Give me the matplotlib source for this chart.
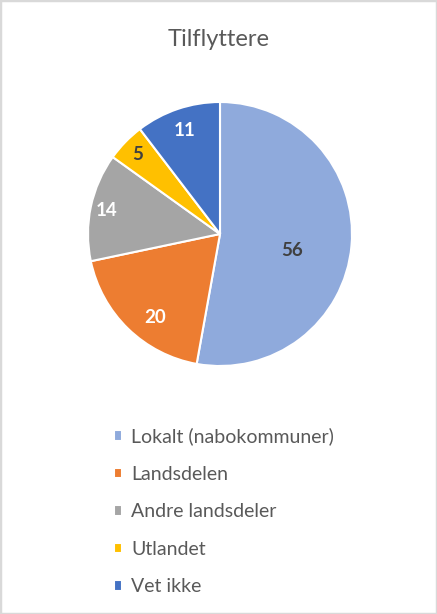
import numpy as np
import matplotlib
matplotlib.use('Agg')
import matplotlib.pyplot as plt
from matplotlib.patches import Rectangle

plt.rcParams['font.family'] = ['Lato', 'DejaVu Sans']

# data
categories = ['Lokalt (nabokommuner)', 'Landsdelen', 'Andre landsdeler', 'Utlandet', 'Vet ikke']
values = [56, 20, 14, 5, 11]
colors = ['#8FAADC', '#ED7D31', '#A5A5A5', '#FFC000', '#4472C4']
label_colors = ['#404040', 'white', 'white', '#404040', 'white']
label_dist = [0.56, 0.80, 0.88, 0.87, 0.83]
label_shift = [-8, 6, 0, 0, 0]  # degrees, Excel's "best fit" nudges

W, H = 437, 614
fig = plt.figure(figsize=(W / 100, H / 100), dpi=100)

cx, cy, r = 220, 234, 132
ax = fig.add_axes([(cx - r) / W, (H - cy - r) / H, 2 * r / W, 2 * r / H])
wedges, _ = ax.pie(values, colors=colors, startangle=90, counterclock=False,
                   radius=1, wedgeprops=dict(edgecolor='white', linewidth=1.5))
ax.set_xlim(-1, 1)
ax.set_ylim(-1, 1)
ax.set_aspect('equal')
ax.axis('off')

for w, v, d, s, c in zip(wedges, values, label_dist, label_shift, label_colors):
    ang = np.deg2rad((w.theta1 + w.theta2) / 2 + s)
    ax.text(d * np.cos(ang), d * np.sin(ang), str(v), ha='center', va='center',
            fontsize=13.5, fontweight='bold', color=c)

fig.text(0.5, 1 - 39 / H, 'Tilflyttere', ha='center', va='center',
         fontsize=17, color='#595959')

fig.legend(wedges, categories, loc='upper left', bbox_to_anchor=(104 / W, 1 - 418 / H),
           frameon=False, fontsize=14, handlelength=0.45, handleheight=0.45,
           handletextpad=0.45, labelspacing=1.05, labelcolor='#595959', borderpad=0)

fig.patches.append(Rectangle((0, 0), 1, 1, transform=fig.transFigure, fill=False,
                             edgecolor='#D9D9D9', linewidth=2.5))

fig.savefig('out.png', dpi=100)
